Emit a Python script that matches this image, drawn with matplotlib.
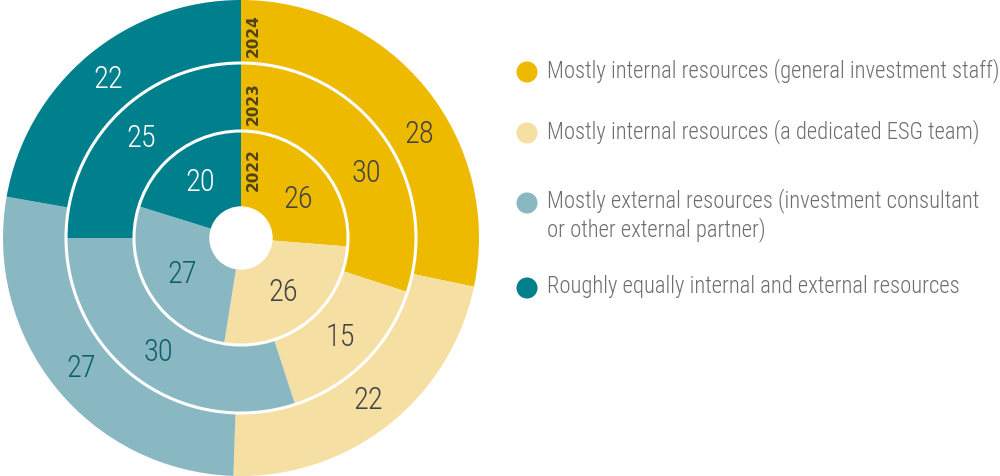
import matplotlib
matplotlib.use("Agg")
import matplotlib.pyplot as plt
import numpy as np
from matplotlib.patches import Circle

years = ["2022", "2023", "2024"]
categories = [
    "Mostly internal resources (general investment staff)",
    "Mostly internal resources (a dedicated ESG team)",
    "Mostly external resources (investment consultant\nor other external partner)",
    "Roughly equally internal and external resources",
]
values_2022 = [26, 26, 27, 20]
values_2023 = [30, 15, 30, 25]
values_2024 = [28, 22, 27, 22]
series = [values_2022, values_2023, values_2024]

colors = ["#EDBA00", "#F5DFA3", "#8AB8C2", "#00808C"]
label_colors = ["#444444", "#444444", "#0E5F6B", "#FFFFFF"]
label_angle_shift = [-9, 0, 0, 0]  # degrees, keeps gold labels clear of year tags

NARROW = ["Roboto Condensed", "DejaVu Sans"]

W, H = 1000, 476
fig = plt.figure(figsize=(W / 100, H / 100), dpi=100)

# pie axes: center (241, 238), radius 238 px
ax = fig.add_axes([3 / W, 0, 476 / W, 1])

r_hole = 31 / 238
bounds = [r_hole, 107 / 238, 175 / 238, 1.0]
year_y = [0.286, 0.563, 0.85]

for i, vals in enumerate(series):
    r_in, r_out = bounds[i], bounds[i + 1]
    wedges, _ = ax.pie(vals, radius=r_out, colors=colors, startangle=90,
                       counterclock=False,
                       wedgeprops=dict(width=r_out - r_in, linewidth=0))
    r_mid = (r_in + r_out) / 2
    for w, v, lc, sh in zip(wedges, vals, label_colors, label_angle_shift):
        ang = np.deg2rad((w.theta1 + w.theta2) / 2 + sh)
        ax.text(r_mid * np.cos(ang), r_mid * np.sin(ang), str(v),
                ha="center", va="center", fontsize=22, color=lc,
                family=NARROW, fontweight=300)
    # year label
    ax.text(0.052, year_y[i], years[i], rotation=90, ha="center", va="center",
            fontsize=11, fontweight="bold", color="#4d4416",
            family=["DejaVu Sans"])

# white ring separators
for r in bounds[1:3]:
    ax.add_patch(Circle((0, 0), r, fill=False, edgecolor="white", linewidth=2.2, zorder=5))
ax.add_patch(Circle((0, 0), r_hole, facecolor="white", edgecolor="white", zorder=5))

ax.set_xlim(-1, 1)
ax.set_ylim(-1, 1)
ax.set_aspect("equal")
ax.axis("off")

# legend
lax = fig.add_axes([0, 0, 1, 1])
lax.set_xlim(0, W)
lax.set_ylim(H, 0)
lax.axis("off")
legend_y = [72, 133, 203, 288]
for y, c, lab in zip(legend_y, colors, categories):
    lax.scatter([527], [y], s=230, color=c, edgecolors="none")
    if "\n" in lab:
        lax.text(547, y - 15, lab, ha="left", va="top", fontsize=16.3,
                 color="#6d6d6d", family=NARROW, fontweight=300, linespacing=1.25)
    else:
        lax.text(547, y - 1, lab, ha="left", va="center", fontsize=16.3,
                 color="#6d6d6d", family=NARROW, fontweight=300)

fig.savefig("out.png", dpi=100)
